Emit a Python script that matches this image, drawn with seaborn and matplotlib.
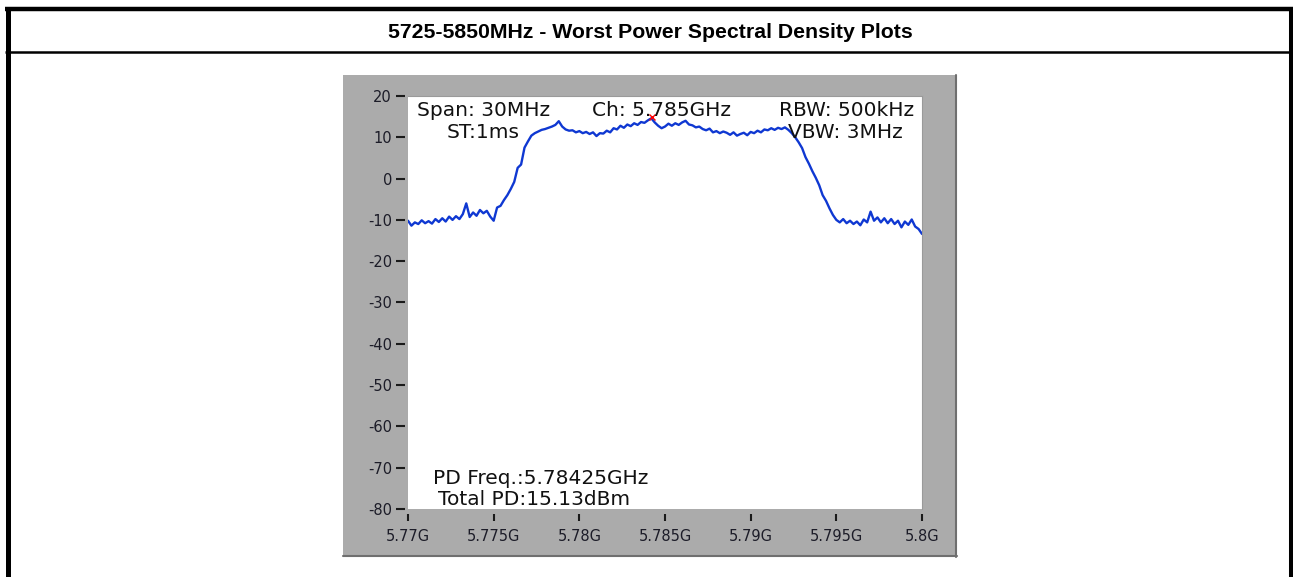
import numpy as np
import pandas as pd
import matplotlib
matplotlib.use('Agg')
import matplotlib.pyplot as plt
from matplotlib.lines import Line2D
from matplotlib.patches import Rectangle
import seaborn as sns

W, H = 1293, 577

TITLE = '5725-5850MHz - Worst Power Spectral Density Plots'

# sweep: 5.77 GHz .. 5.80 GHz, 151 points (0.2 MHz apart)
F_START, F_STOP, N_PTS = 5.77, 5.80, 151
level_dbm = [
    -10.2, -11.4, -10.6, -11.0, -10.1, -10.8, -10.3, -10.9, -9.8, -10.5,
    -9.6, -10.4, -9.2, -10.0, -9.1, -9.8, -8.6, -6.0, -9.3, -8.2,
    -9.0, -7.6, -8.4, -7.8, -9.2, -10.2, -7.0, -6.6, -5.2, -4.0,
    -2.5, -0.8, 2.6, 3.4, 7.5, 9.0, 10.4, 11.0, 11.4, 11.8,
    12.0, 12.3, 12.6, 13.0, 13.9, 12.6, 11.9, 11.6, 11.7, 11.2,
    11.5, 11.0, 11.3, 10.8, 11.2, 10.3, 11.0, 10.9, 11.6, 11.2,
    12.2, 11.9, 12.8, 12.3, 13.1, 12.7, 13.4, 13.0, 13.7, 13.5,
    14.1, 14.6, 13.6, 12.8, 12.2, 12.6, 13.3, 12.8, 13.4, 13.0,
    13.6, 14.0, 13.1, 12.9, 12.4, 12.6, 12.0, 11.7, 12.1, 11.2,
    11.5, 11.0, 11.4, 11.1, 10.6, 11.2, 10.4, 10.8, 11.1, 10.5,
    11.3, 11.0, 11.6, 11.2, 11.9, 11.7, 12.2, 11.8, 12.3, 12.0,
    12.4, 11.8, 11.0, 10.0, 8.8, 7.4, 5.2, 3.6, 1.8, 0.2,
    -1.6, -4.0, -5.4, -7.2, -8.8, -10.0, -10.6, -9.8, -10.8, -10.2,
    -11.0, -10.4, -11.3, -9.9, -10.6, -8.0, -10.2, -9.4, -10.6, -9.6,
    -10.8, -9.8, -11.0, -10.2, -11.8, -10.4, -11.2, -9.9, -11.6, -12.2,
    -13.4,
]

x_ticks = [5.77, 5.775, 5.78, 5.785, 5.79, 5.795, 5.80]
x_labels = ['5.77G', '5.775G', '5.78G', '5.785G', '5.79G', '5.795G', '5.8G']
y_ticks = [20, 10, 0, -10, -20, -30, -40, -50, -60, -70, -80]

peak_freq = 5.78425
peak_level = 14.9

info_top = ['Span: 30MHz', 'Ch: 5.785GHz', 'RBW: 500kHz']
info_second = ['ST:1ms', 'VBW: 3MHz']
info_bottom = ['PD Freq.:5.78425GHz', 'Total PD:15.13dBm']


def fx(x):
    return x / W


def fy(y):
    return 1 - y / H


def main():
    sns.set_theme(style='white')
    plt.rcParams['font.family'] = ['DejaVu Sans']
    plt.rcParams['axes.unicode_minus'] = False

    df = pd.DataFrame({
        'freq': np.linspace(F_START, F_STOP, N_PTS),
        'level': level_dbm,
    })

    fig = plt.figure(figsize=(W / 100, H / 100), dpi=100)
    fig.patch.set_facecolor('white')

    # outer table frame
    k = dict(color='black', transform=fig.transFigure, solid_capstyle='butt', zorder=5)
    fig.add_artist(Line2D([fx(5), fx(1293)], [fy(9), fy(9)], lw=3.2, **k))
    fig.add_artist(Line2D([fx(7.5), fx(7.5)], [fy(7), 0], lw=3.6, **k))
    fig.add_artist(Line2D([fx(1291), fx(1291)], [fy(7), 0], lw=2.9, **k))
    fig.add_artist(Line2D([fx(5), fx(1293)], [fy(52), fy(52)], lw=1.8, **k))

    fig.text(fx(650), fy(38), TITLE, ha='center', va='baseline', color='black',
             fontsize=15.3, fontweight='bold', family='Liberation Sans')

    # grey instrument panel
    fig.add_artist(Rectangle((fx(343), fy(557)), (957 - 343) / W, (557 - 75) / H,
                             transform=fig.transFigure, facecolor='#ababab',
                             edgecolor='none', zorder=-2))
    s = dict(color='#6f6f6f', transform=fig.transFigure, lw=1.5, zorder=-1)
    fig.add_artist(Line2D([fx(956), fx(956)], [fy(75), fy(557)], **s))
    fig.add_artist(Line2D([fx(343), fx(957)], [fy(556), fy(556)], **s))

    ax = fig.add_axes([fx(408), fy(509), 514 / W, 413 / H])
    ax.set_facecolor('white')

    sns.lineplot(data=df, x='freq', y='level', ax=ax, color='#0f38d2',
                 lw=1.7, estimator=None)
    ax.plot([peak_freq], [peak_level], marker='x', color='red', ms=4, mew=1)

    ax.set_xlim(F_START, F_STOP)
    ax.set_ylim(-80, 20)
    ax.set_xticks(x_ticks)
    ax.set_xticklabels(x_labels)
    ax.set_yticks(y_ticks)
    ax.set_xlabel('')
    ax.set_ylabel('')

    for side in ['top', 'right']:
        ax.spines[side].set_color('#9a9a9a')
        ax.spines[side].set_linewidth(0.8)
    ax.spines['left'].set_position(('outward', 2.5))
    ax.spines['bottom'].set_position(('outward', 3.5))
    ax.spines['left'].set_visible(False)
    ax.spines['bottom'].set_visible(False)

    ax.tick_params(axis='y', left=True, direction='out', length=6.5, width=1.5,
                   color='#1a1a1a', pad=2.5, labelsize=10.5, labelcolor='#1c1c28')
    ax.tick_params(axis='x', bottom=True, direction='out', length=5, width=1.5,
                   color='#1a1a1a', pad=6, labelsize=10.5, labelcolor='#1c1c28')

    t = dict(ha='center', va='baseline', fontsize=14.5, color='#111111')
    fig.text(fx(484), fy(116.5), info_top[0], **t)
    fig.text(fx(662), fy(116.5), info_top[1], **t)
    fig.text(fx(847), fy(116.5), info_top[2], **t)
    fig.text(fx(483), fy(138.5), info_second[0], **t)
    fig.text(fx(845), fy(138.5), info_second[1], **t)
    fig.text(fx(541), fy(484), info_bottom[0], **t)
    fig.text(fx(534), fy(505), info_bottom[1], **t)

    fig.savefig('out.png', dpi=100)


if __name__ == '__main__':
    main()
